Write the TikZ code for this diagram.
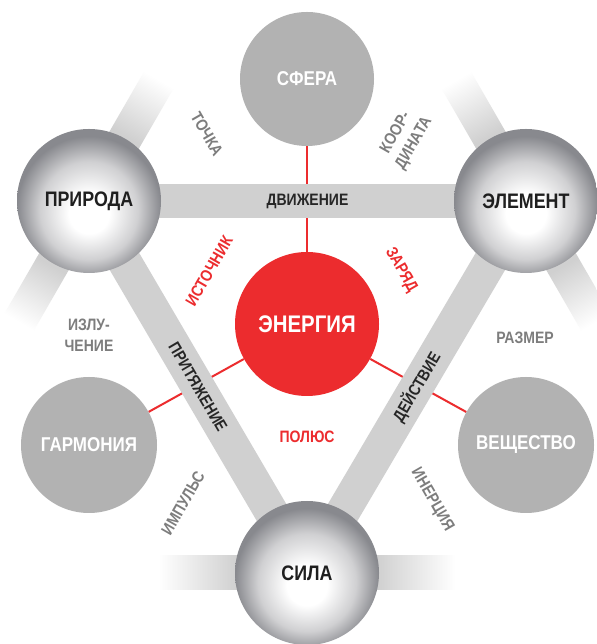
\documentclass[tikz,border=0pt]{standalone}
\usepackage{fontspec}
\setmainfont{Liberation Sans}[FakeStretch=0.85]
\usetikzlibrary{backgrounds,calc}

\definecolor{barGray}{RGB}{208,208,208}
\definecolor{discGray}{RGB}{178,178,178}
\definecolor{enRed}{RGB}{236,44,46}
\definecolor{labGray}{RGB}{125,125,125}
\definecolor{ballEdge}{RGB}{136,137,142}
\definecolor{ballMid}{RGB}{208,208,210}
\pgfdeclareradialshading{ballshade}{\pgfpoint{0bp}{-5bp}}{color(0bp)=(white); color(7bp)=(white); color(17bp)=(ballMid); color(25bp)=(ballEdge); color(50bp)=(ballEdge)}
\pgfdeclarehorizontalshading{barfade}{100bp}{color(0bp)=(white); color(37bp)=(white); color(57bp)=(barGray); color(100bp)=(barGray)}

\begin{document}
\begin{tikzpicture}[x=1pt, y=1pt,
  bignode/.style={shape=circle, shade, shading=ballshade, minimum size=144pt, inner sep=0pt, font=\fontsize{21}{24}\selectfont\bfseries, text=black!88},
  disc/.style={shape=circle, fill=discGray, minimum size=136pt, inner sep=0pt, font=\fontsize{20}{24}\selectfont\bfseries, text=white},
  innerbar/.style={-, line width=34pt, draw=barGray},
  redline/.style={-, line width=2pt, draw=enRed},
  barlabel/.style={font=\fontsize{16.5}{20}\selectfont\bfseries, text=black!85, sloped, midway},
  graylabel/.style={font=\fontsize{16.5}{21}\selectfont\bfseries, text=labGray, align=center},
  redlabel/.style={font=\fontsize{16.5}{21}\selectfont\bfseries, text=enRed}]
\useasboundingbox (0,0) rectangle (596,644);

\node[bignode] (priroda) at (89,443) {ПРИРОДА};
\node[bignode] (element) at (526,443) {ЭЛЕМЕНТ};
\node[bignode] (sila) at (307,71) {СИЛА};
\node[disc, minimum size=134pt] (sfera) at (307,565) {СФЕРА};
\node[disc] (garmonia) at (89,199) {ГАРМОНИЯ};
\node[disc] (veshchestvo) at (526,199) {ВЕЩЕСТВО};
\node[shape=circle, fill=enRed, minimum size=144pt, inner sep=0pt, font=\fontsize{24}{28}\selectfont\bfseries, text=white] (energy) at (307,320) {ЭНЕРГИЯ};

\coordinate (pUp) at ($(priroda)+(60:195)$);
\coordinate (pDown) at ($(priroda)+(240:195)$);
\coordinate (eUp) at ($(element)+(120:195)$);
\coordinate (eDown) at ($(element)+(300:195)$);
\coordinate (sLeft) at ($(sila)+(180:195)$);
\coordinate (sRight) at ($(sila)+(0:195)$);

\node[graylabel, rotate=-60] (tochka) at (207,510) {ТОЧКА};
\node[graylabel, rotate=60] (koord) at (405,506) {КООР-\\ДИНАТА};
\node[redlabel, rotate=60] (istochnik) at (209,373) {ИСТОЧНИК};
\node[redlabel, rotate=-60] (zaryad) at (401,374) {ЗАРЯД};
\node[graylabel] (izluch) at (89,309) {ИЗЛУ-\\ЧЕНИЕ};
\node[graylabel] (razmer) at (525,306) {РАЗМЕР};
\node[redlabel] (polyus) at (307,207) {ПОЛЮС};
\node[graylabel, rotate=60] (impuls) at (183,141) {ИМПУЛЬС};
\node[graylabel, rotate=-60] (inertsiya) at (432,144) {ИНЕРЦИЯ};

\begin{scope}[on background layer]
\fill[white] (0,0) rectangle (596,644);
\path [redline] (energy) edge (sfera);
\path [redline] (energy) edge (garmonia);
\path [redline] (energy) edge (veshchestvo);
\shade[shading=barfade, shading angle=240] ($(priroda.center)!17pt!90:(pUp)$) -- ($(pUp)!17pt!-90:(priroda.center)$) -- ($(pUp)!17pt!90:(priroda.center)$) -- ($(priroda.center)!17pt!-90:(pUp)$) -- cycle;
\shade[shading=barfade, shading angle=60] ($(priroda.center)!17pt!90:(pDown)$) -- ($(pDown)!17pt!-90:(priroda.center)$) -- ($(pDown)!17pt!90:(priroda.center)$) -- ($(priroda.center)!17pt!-90:(pDown)$) -- cycle;
\shade[shading=barfade, shading angle=300] ($(element.center)!17pt!90:(eUp)$) -- ($(eUp)!17pt!-90:(element.center)$) -- ($(eUp)!17pt!90:(element.center)$) -- ($(element.center)!17pt!-90:(eUp)$) -- cycle;
\shade[shading=barfade, shading angle=120] ($(element.center)!17pt!90:(eDown)$) -- ($(eDown)!17pt!-90:(element.center)$) -- ($(eDown)!17pt!90:(element.center)$) -- ($(element.center)!17pt!-90:(eDown)$) -- cycle;
\shade[shading=barfade, shading angle=0] ($(sila.center)!17pt!90:(sLeft)$) -- ($(sLeft)!17pt!-90:(sila.center)$) -- ($(sLeft)!17pt!90:(sila.center)$) -- ($(sila.center)!17pt!-90:(sLeft)$) -- cycle;
\shade[shading=barfade, shading angle=180] ($(sila.center)!17pt!90:(sRight)$) -- ($(sRight)!17pt!-90:(sila.center)$) -- ($(sRight)!17pt!90:(sila.center)$) -- ($(sila.center)!17pt!-90:(sRight)$) -- cycle;
\path [innerbar] (priroda.center) edge node[barlabel] {ДВИЖЕНИЕ} (element.center);
\path [innerbar] (priroda.center) edge node[barlabel] {ПРИТЯЖЕНИЕ} (sila.center);
\path [innerbar] (sila.center) edge node[barlabel] {ДЕЙСТВИЕ} (element.center);
\end{scope}
\end{tikzpicture}
\end{document}
